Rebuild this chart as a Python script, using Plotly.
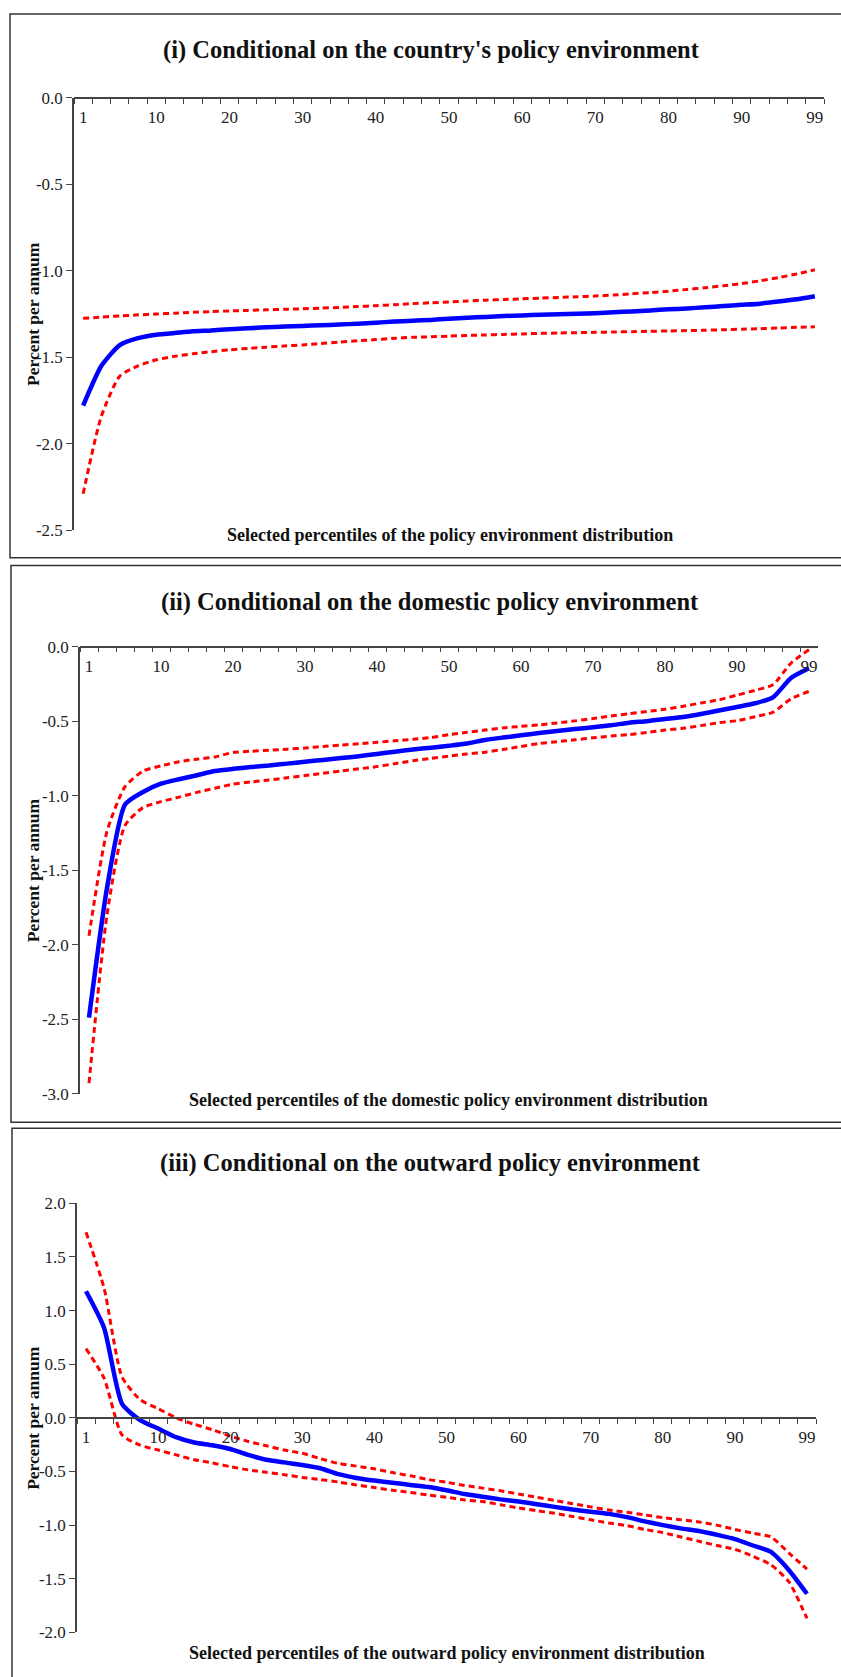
import plotly.graph_objects as go

W, H = 841, 1677

# Selected percentiles (category axis) and the ones that carry a label
percentiles = ["1", "2.5", "5", "7.5", "10", "12.5", "15", "17.5", "20", "22.5",
               "25", "27.5", "30", "32.5", "35", "37.5", "40", "42.5", "45", "47.5",
               "50", "52.5", "55", "57.5", "60", "62.5", "65", "67.5", "70", "72.5",
               "75", "77.5", "80", "82.5", "85", "87.5", "90", "92.5", "95", "97.5", "99"]
labelled = ["1", "10", "20", "30", "40", "50", "60", "70", "80", "90", "99"]

# (i) country's policy environment
p1_mid = [-1.78, -1.55, -1.43, -1.39, -1.37, -1.36, -1.35, -1.345, -1.338, -1.333,
          -1.327, -1.323, -1.319, -1.315, -1.311, -1.306, -1.300, -1.294, -1.289, -1.284,
          -1.278, -1.272, -1.267, -1.262, -1.258, -1.254, -1.251, -1.248, -1.245, -1.240,
          -1.235, -1.229, -1.223, -1.218, -1.211, -1.204, -1.197, -1.190, -1.178, -1.165,
          -1.147]
p1_hi = [-1.275, -1.268, -1.261, -1.255, -1.250, -1.245, -1.240, -1.236, -1.232, -1.229,
         -1.226, -1.223, -1.220, -1.216, -1.212, -1.207, -1.202, -1.196, -1.190, -1.185,
         -1.180, -1.175, -1.170, -1.166, -1.162, -1.158, -1.154, -1.150, -1.146, -1.140,
         -1.133, -1.126, -1.118, -1.108, -1.098, -1.086, -1.074, -1.058, -1.040, -1.018,
         -0.994]
p1_lo = [-2.29, -1.84, -1.61, -1.55, -1.515, -1.495, -1.48, -1.468, -1.457, -1.449,
         -1.442, -1.435, -1.429, -1.421, -1.413, -1.405, -1.398, -1.391, -1.385, -1.382,
         -1.378, -1.374, -1.371, -1.368, -1.365, -1.362, -1.360, -1.358, -1.356, -1.354,
         -1.352, -1.350, -1.348, -1.346, -1.344, -1.341, -1.338, -1.335, -1.331, -1.327,
         -1.324]

# (ii) domestic policy environment
p2_mid = [-2.49, -1.62, -1.06, -0.975, -0.92, -0.89, -0.863, -0.835, -0.82, -0.808,
          -0.798, -0.785, -0.772, -0.76, -0.748, -0.735, -0.72, -0.705, -0.69, -0.678,
          -0.665, -0.65, -0.626, -0.61, -0.595, -0.58, -0.566, -0.553, -0.541, -0.528,
          -0.51, -0.50, -0.486, -0.472, -0.452, -0.428, -0.405, -0.38, -0.34, -0.21,
          -0.145]
p2_hi = [-1.94, -1.24, -0.94, -0.835, -0.80, -0.772, -0.755, -0.74, -0.71, -0.702,
         -0.695, -0.688, -0.68, -0.67, -0.66, -0.652, -0.642, -0.632, -0.622, -0.61,
         -0.59, -0.575, -0.56, -0.545, -0.535, -0.525, -0.512, -0.498, -0.482, -0.465,
         -0.45, -0.435, -0.42, -0.40, -0.378, -0.356, -0.325, -0.293, -0.255, -0.11,
         -0.02]
p2_lo = [-2.93, -1.80, -1.20, -1.08, -1.04, -1.01, -0.978, -0.95, -0.923, -0.908,
         -0.895, -0.88, -0.865, -0.85, -0.835, -0.82, -0.805, -0.785, -0.766, -0.75,
         -0.735, -0.72, -0.708, -0.69, -0.67, -0.65, -0.638, -0.625, -0.612, -0.60,
         -0.59, -0.575, -0.56, -0.548, -0.53, -0.51, -0.497, -0.47, -0.44, -0.35,
         -0.30]

# (iii) outward policy environment
p3_mid = [1.18, 0.84, 0.13, -0.02, -0.10, -0.18, -0.23, -0.255, -0.29, -0.345,
          -0.39, -0.415, -0.44, -0.47, -0.525, -0.56, -0.585, -0.605, -0.625, -0.645,
          -0.675, -0.71, -0.735, -0.76, -0.78, -0.805, -0.83, -0.855, -0.875, -0.895,
          -0.925, -0.965, -1.00, -1.03, -1.055, -1.09, -1.13, -1.19, -1.25, -1.42,
          -1.64]
p3_hi = [1.73, 1.21, 0.38, 0.17, 0.085, 0.0, -0.06, -0.11, -0.17, -0.22,
         -0.26, -0.30, -0.33, -0.38, -0.425, -0.45, -0.475, -0.51, -0.54, -0.575,
         -0.60, -0.63, -0.655, -0.68, -0.71, -0.74, -0.77, -0.80, -0.83, -0.86,
         -0.88, -0.905, -0.93, -0.95, -0.97, -1.00, -1.04, -1.075, -1.11, -1.26,
         -1.41]
p3_lo = [0.645, 0.37, -0.16, -0.255, -0.30, -0.345, -0.39, -0.42, -0.455, -0.485,
         -0.507, -0.53, -0.555, -0.575, -0.598, -0.625, -0.65, -0.675, -0.695, -0.72,
         -0.74, -0.765, -0.78, -0.81, -0.84, -0.865, -0.89, -0.92, -0.95, -0.98,
         -1.005, -1.04, -1.07, -1.11, -1.15, -1.19, -1.225, -1.29, -1.37, -1.53,
         -1.87]

titles = ["(i) Conditional on the country's policy environment",
          "(ii) Conditional on the domestic policy environment",
          "(iii) Conditional on the outward policy environment"]
x_titles = ["Selected percentiles of the policy environment distribution",
            "Selected percentiles of the domestic policy environment distribution",
            "Selected percentiles of the outward policy environment distribution"]
y_title = "Percent per annum"
y_ranges = [(-2.5, 0.0), (-3.0, 0.0), (-2.0, 2.0)]
y_ticks = [[-2.5, -2.0, -1.5, -1.0, -0.5, 0.0],
           [-3.0, -2.5, -2.0, -1.5, -1.0, -0.5, 0.0],
           [-2.0, -1.5, -1.0, -0.5, 0.0, 0.5, 1.0, 1.5, 2.0]]
series = [(p1_lo, p1_hi, p1_mid), (p2_lo, p2_hi, p2_mid), (p3_lo, p3_hi, p3_mid)]

# Pixel geometry of each panel: plot box, title rows and outer frame
panels = [
    dict(left=74, right=824, top=90, bottom=527, title_y=41, xtitle_y=532,
         title_x=431, xtitle_x=450, frame=(10, 5, 555)),
    dict(left=80, right=818, top=645, bottom=1097, title_y=600, xtitle_y=1103,
         title_x=430, xtitle_x=448, frame=(11, 563, 1126)),
    dict(left=77, right=816, top=1208, bottom=1642, title_y=1167, xtitle_y=1663,
         title_x=430, xtitle_x=447, frame=(12, 1132, 1700)),
]

SERIF = "Liberation Serif"
AXIS_COL = "#444444"
TEXT_COL = "#222222"


def fx(px):
    return px / W


def fy(px):
    return 1 - px / H


fig = go.Figure()
annotations = []
shapes = []
layout_axes = {}

for k, (p, (lo, hi, mid)) in enumerate(zip(panels, series), start=1):
    xa = "x" if k == 1 else f"x{k}"
    ya = "y" if k == 1 else f"y{k}"
    ymin, ymax = y_ranges[k - 1]
    zero_px = p["top"] + (ymax - 0.0) / (ymax - ymin) * (p["bottom"] - p["top"])

    for vals in (hi, lo):
        fig.add_trace(go.Scatter(
            x=percentiles, y=vals, xaxis=xa, yaxis=ya, mode="lines",
            line=dict(color="#FF0000", width=3, dash="6px,4px", shape="spline", smoothing=0.6),
            showlegend=False, hoverinfo="skip"))
    fig.add_trace(go.Scatter(
        x=percentiles, y=mid, xaxis=xa, yaxis=ya, mode="lines",
        line=dict(color="#0000FF", width=4.5, shape="spline", smoothing=0.6),
        showlegend=False, hoverinfo="skip"))

    layout_axes["xaxis" if k == 1 else f"xaxis{k}"] = dict(
        domain=[fx(p["left"]), fx(p["right"])],
        type="category", range=[-0.5, len(percentiles) - 0.5],
        anchor="free", position=fy(zero_px), side="bottom",
        tickmode="array", tickvals=percentiles,
        ticktext=[c if c in labelled else "" for c in percentiles],
        tickangle=0,
        tickson="boundaries", ticks="outside", ticklen=5, tickwidth=1.2,
        tickcolor=AXIS_COL, showline=True, linecolor=AXIS_COL, linewidth=1.5,
        showgrid=False, zeroline=False, ticklabelstandoff=4,
        tickfont=dict(family=SERIF, size=17, color=TEXT_COL), fixedrange=True)
    layout_axes["yaxis" if k == 1 else f"yaxis{k}"] = dict(
        domain=[fy(p["bottom"]), fy(p["top"])],
        anchor=xa, range=[ymin, ymax],
        tickmode="array", tickvals=y_ticks[k - 1],
        ticktext=[f"{v:.1f}" for v in y_ticks[k - 1]],
        ticks="outside", ticklen=6, tickwidth=1.2, tickcolor=AXIS_COL,
        showline=True, linecolor=AXIS_COL, linewidth=1.5,
        showgrid=False, zeroline=False,
        tickfont=dict(family=SERIF, size=17, color=TEXT_COL), fixedrange=True)

    annotations.append(dict(
        text=f"<b>{titles[k - 1]}</b>", xref="paper", yref="paper",
        x=fx(p["title_x"]), y=fy(p["title_y"]), xanchor="center", yanchor="middle",
        showarrow=False, font=dict(family=SERIF, size=24.5, color="#111111")))
    annotations.append(dict(
        text=f"<b>{x_titles[k - 1]}</b>", xref="paper", yref="paper",
        x=fx(p["xtitle_x"]), y=fy(p["xtitle_y"]), xanchor="center", yanchor="middle",
        showarrow=False, font=dict(family=SERIF, size=18, color="#111111")))
    annotations.append(dict(
        text=f"<b>{y_title}</b>", xref="paper", yref="paper", textangle=-90,
        x=fx(33), y=fy((p["top"] + p["bottom"]) / 2), xanchor="center", yanchor="middle",
        showarrow=False, font=dict(family=SERIF, size=17.5, color="#111111")))

    fl, ft, fb = p["frame"]
    shapes.append(dict(type="rect", xref="paper", yref="paper",
                       x0=fx(fl), x1=fx(W + 20), y0=fy(fb), y1=fy(ft),
                       line=dict(color="#333333", width=1.5), layer="below"))

fig.update_layout(
    width=W, height=H, margin=dict(l=0, r=0, t=0, b=0),
    paper_bgcolor="white", plot_bgcolor="white",
    annotations=annotations, shapes=shapes, showlegend=False,
    **layout_axes)

fig.write_html("out.html", config={"displayModeBar": False})
